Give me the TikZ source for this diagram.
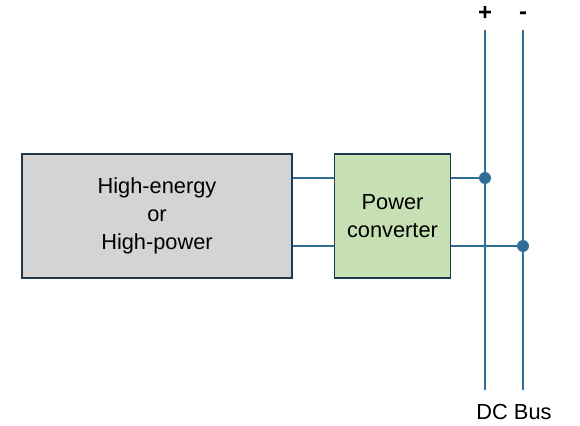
\documentclass[tikz,border=0pt]{standalone}
\usepackage{fontspec}
\setmainfont{Liberation Sans}
\usepackage{tikz}
\definecolor{wireblue}{HTML}{2F6F96}
\definecolor{boxedge}{HTML}{1E3A4C}
\definecolor{storegray}{HTML}{D4D4D4}
\definecolor{convgreen}{HTML}{C6E0B4}

\begin{document}
\begin{tikzpicture}[x=0.025cm, y=-0.025cm,
  blockbox/.style={draw=boxedge, line width=1.2pt, align=center, font=\fontsize{15.5}{19.8}\selectfont, inner sep=0pt},
  wire/.style={draw=wireblue, line width=1.1pt},
  joint/.style={circle, fill=wireblue, inner sep=0pt, minimum size=8.5pt},
  railsign/.style={font=\fontsize{17}{18}\selectfont\bfseries, inner sep=0pt}]

\useasboundingbox (0,0) rectangle (580,426);

% ---- Source and converter blocks ----
\node[blockbox, fill=storegray, minimum width=270*0.025cm, minimum height=124*0.025cm] (source) at (157,216) {High-energy\\or\\High-power};
\node[blockbox, fill=convgreen, minimum width=116*0.025cm, minimum height=124*0.025cm] (conv) at (392.5,216) {Power\\converter};

% ---- DC bus rails ----
\coordinate (plustop) at (485,30);
\coordinate (plusbot) at (485,390);
\coordinate (minustop) at (523,30);
\coordinate (minusbot) at (523,390);
\draw[wire] (plustop) -- (plusbot);
\draw[wire] (minustop) -- (minusbot);
\node[railsign] (plus) at (485,13) {+};
\node[railsign] (minus) at (523,16) {-};
\node[font=\fontsize{15.5}{18}\selectfont] (buslabel) at (514,412) {DC Bus};

% ---- Joints on the rails ----
\node[joint] (jplus) at (485,178) {};
\node[joint] (jminus) at (523,246) {};

% ---- Connections ----
\draw[wire] (source.east |- 0,178) -- (conv.west |- 0,178);
\draw[wire] (source.east |- 0,246) -- (conv.west |- 0,246);
\draw[wire] (conv.east |- jplus) -- (jplus);
\draw[wire] (conv.east |- jminus) -- (jminus);

\end{tikzpicture}
\end{document}
